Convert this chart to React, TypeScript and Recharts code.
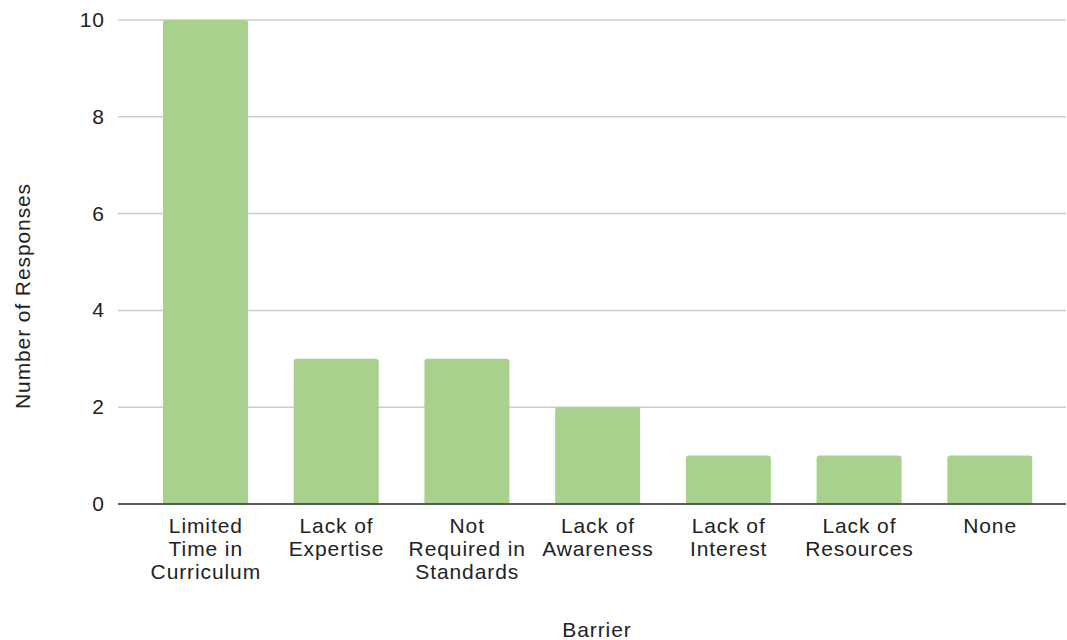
import React from "react";
import { BarChart, Bar, XAxis, YAxis, CartesianGrid, Label } from "recharts";

const categories = [
  "Limited Time in Curriculum",
  "Lack of Expertise",
  "Not Required in Standards",
  "Lack of Awareness",
  "Lack of Interest",
  "Lack of Resources",
  "None",
];
const tickLines = [
  ["Limited", "Time in", "Curriculum"],
  ["Lack of", "Expertise"],
  ["Not", "Required in", "Standards"],
  ["Lack of", "Awareness"],
  ["Lack of", "Interest"],
  ["Lack of", "Resources"],
  ["None"],
];
const responses = [10, 3, 3, 2, 1, 1, 1];
const yTicks = [0, 2, 4, 6, 8, 10];

const data = categories.map((c, i) => ({ name: c, value: responses[i] }));

const FONT = "Arial, 'Liberation Sans', sans-serif";
const FS = 21;
const LS = 0.9;
const TXT = "#222";

const CustomTick = (props: any) => {
  const { x, y, index } = props;
  const lines = tickLines[index] || [];
  return (
    <g transform={`translate(${x},${y})`}>
      <text textAnchor="middle" fill={TXT} fontSize={FS} fontFamily={FONT} letterSpacing={LS}>
        {lines.map((l, i) => (
          <tspan key={i} x={LS / 2} y={21 + i * 23}>
            {l}
          </tspan>
        ))}
      </text>
    </g>
  );
};

const YTick = (props: any) => {
  const { x, y, payload } = props;
  return (
    <text x={x + LS} y={y} dy={7} textAnchor="end" fill={TXT} fontSize={FS} fontFamily={FONT} letterSpacing={LS}>
      {payload.value}
    </text>
  );
};

const YLabel = (props: any) => {
  const vb = props.viewBox || {};
  const cx = 22;
  const cy = vb.y + vb.height / 2 + 34;
  return (
    <text
      x={cx}
      y={cy}
      transform={`rotate(-90, ${cx}, ${cy})`}
      textAnchor="middle"
      dominantBaseline="central"
      fill={TXT}
      fontSize={FS}
      fontFamily={FONT}
      letterSpacing={LS}
    >
      Number of Responses
    </text>
  );
};

const XLabel = (props: any) => {
  const vb = props.viewBox || {};
  const cx = vb.x + vb.width / 2 + 5;
  const cy = 637;
  return (
    <text x={cx} y={cy} textAnchor="middle" fill={TXT} fontSize={FS} fontFamily={FONT} letterSpacing={LS}>
      Barrier
    </text>
  );
};

export default function App() {
  return (
    <div style={{ position: "absolute", left: 0, top: 0, background: "#fff" }}>
      <BarChart
        width={1067}
        height={640}
        data={data}
        margin={{ top: 20, right: 1, bottom: 0, left: 0 }}
      >
        <CartesianGrid vertical={false} stroke="#cccccc" strokeWidth={1.5} />
        <XAxis
          dataKey="name"
          interval={0}
          tickLine={false}
          axisLine={{ stroke: "#333", strokeWidth: 1.5 }}
          tick={<CustomTick />}
          height={136}
          padding={{ left: 22, right: 11 }}
        >
          <Label content={<XLabel />} />
        </XAxis>
        <YAxis
          width={118}
          domain={[0, 10]}
          ticks={yTicks}
          tickLine={false}
          axisLine={false}
          tick={<YTick />}
          tickMargin={8}
        >
          <Label content={<YLabel />} />
        </YAxis>
        <Bar
          dataKey="value"
          fill="#a9d18e"
          barSize={85}
          radius={[3, 3, 0, 0]}
          isAnimationActive={false}
        />
      </BarChart>
    </div>
  );
}
